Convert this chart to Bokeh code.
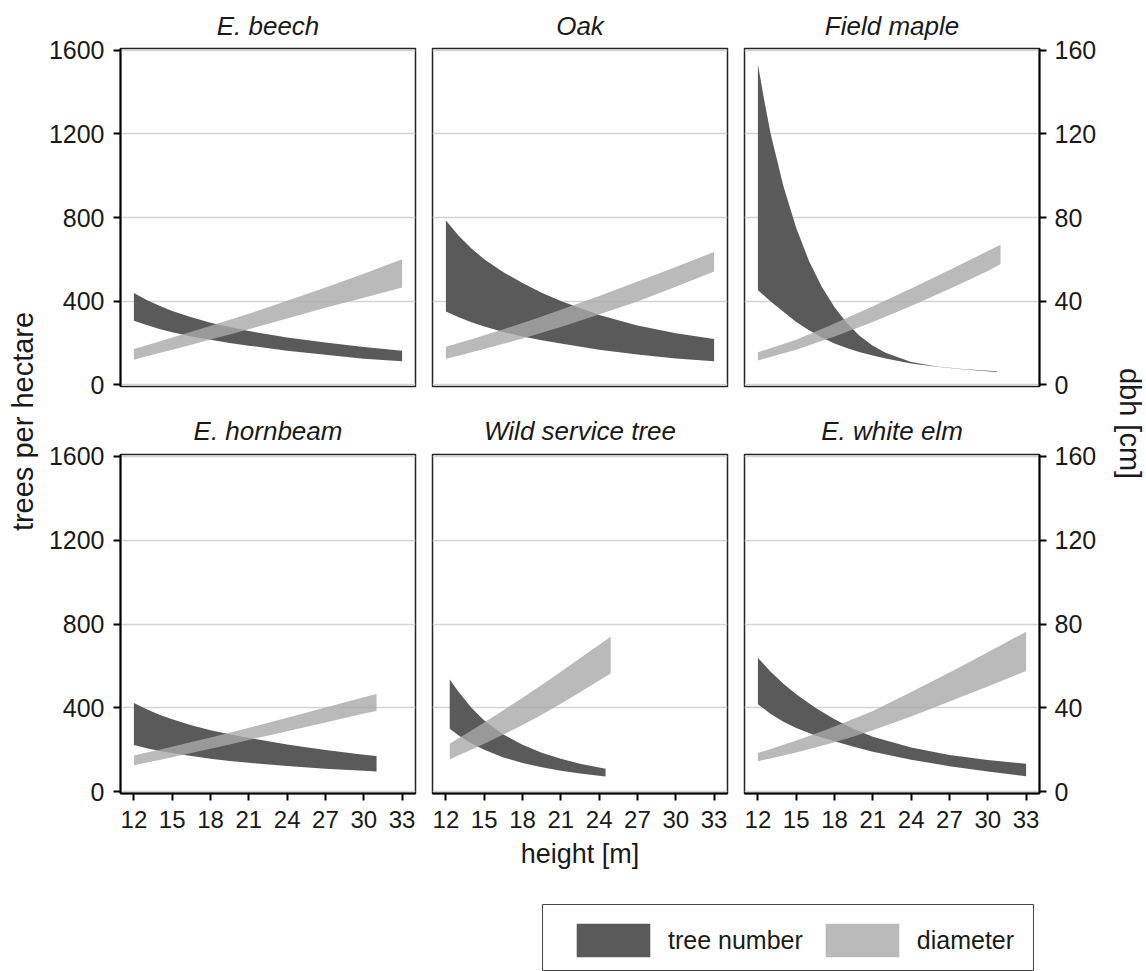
import numpy as np
from bokeh.plotting import figure
from bokeh.models import (Range1d, LinearAxis, FixedTicker, Grid, Label, Legend,
                          LegendItem)
from bokeh.layouts import row, column
from bokeh.embed import file_html
from bokeh.resources import INLINE

# ---------------- data ----------------
species = ["E. beech", "Oak", "Field maple", "E. hornbeam", "Wild service tree", "E. white elm"]

x_ticks = [12, 15, 18, 21, 24, 27, 30, 33]
n_ticks = [0, 400, 800, 1200, 1600]
d_ticks = [0, 40, 80, 120, 160]

# E. beech
beech_h = [12, 13, 14, 15, 16.5, 18, 19.5, 21, 24, 27, 30, 33]
beech_n_hi = [438, 405, 377, 352, 322, 296, 275, 256, 225, 201, 180, 162]
beech_n_lo = [306, 285, 266, 250, 230, 214, 199, 186, 162, 142, 124, 111]
beech_d_hi = [17.0, 18.8, 20.6, 22.5, 25.3, 28.1, 31.0, 33.9, 40.1, 46.5, 53.1, 60.0]
beech_d_lo = [11.9, 13.5, 15.1, 16.7, 19.1, 21.6, 24.0, 26.5, 31.6, 36.8, 41.6, 46.5]

# Oak
oak_h = [12, 13, 14, 15, 16.5, 18, 19.5, 21, 24, 27, 30, 33]
oak_n_hi = [786, 712, 652, 600, 538, 486, 440, 400, 333, 283, 246, 218]
oak_n_lo = [350, 322, 298, 278, 252, 230, 212, 196, 166, 144, 125, 111]
oak_d_hi = [18.1, 19.9, 21.7, 23.6, 26.5, 29.5, 32.6, 35.8, 42.4, 49.3, 56.3, 63.5]
oak_d_lo = [12.3, 13.8, 15.4, 17.0, 19.5, 22.1, 24.8, 27.6, 33.5, 39.8, 46.8, 54.1]

# Field maple
maple_hn = [12, 12.5, 13, 14, 15, 16, 17, 18, 19, 20, 21, 22, 24, 26, 28, 30.7]
maple_n_hi = [1534, 1360, 1200, 950, 750, 592, 468, 370, 292, 231, 186, 152, 108, 86, 74, 64]
maple_n_lo = [452, 425, 398, 348, 300, 260, 225, 197, 174, 155, 139, 125, 101, 85, 73, 60]
maple_hd = [12, 15, 18, 21, 24, 27, 30, 31]
maple_d_hi = [15.4, 21.5, 29.2, 37.5, 46.0, 54.9, 63.9, 66.9]
maple_d_lo = [11.5, 16.6, 23.0, 30.0, 37.6, 45.7, 54.4, 57.6]

# E. hornbeam
hornbeam_h = [12, 13, 14, 15, 16.5, 18, 19.5, 21, 24, 27, 30, 31]
hornbeam_n_hi = [423, 393, 367, 345, 316, 293, 273, 256, 224, 198, 176, 169]
hornbeam_n_lo = [222, 207, 194, 184, 169, 157, 146, 137, 122, 109, 99, 96]
hornbeam_d_hi = [17.2, 18.6, 20.0, 21.4, 23.6, 25.8, 28.1, 30.4, 35.2, 40.1, 45.0, 46.6]
hornbeam_d_lo = [12.5, 13.8, 15.1, 16.4, 18.4, 20.4, 22.5, 24.6, 28.8, 33.0, 37.2, 38.5]

# Wild service tree
service_hn = [12.3, 13, 14, 15, 16.5, 18, 19.5, 21, 22.5, 24.5]
service_n_hi = [535, 475, 400, 339, 272, 223, 185, 156, 133, 109]
service_n_lo = [300, 268, 229, 199, 163, 136, 116, 99, 86, 72]
service_hd = [12.3, 13, 14, 15, 16.5, 18, 19.5, 21, 22.5, 24.9]
service_d_hi = [22.8, 25.4, 29.1, 33.0, 38.8, 44.8, 50.9, 57.2, 63.6, 73.9]
service_d_lo = [15.3, 17.3, 20.0, 22.8, 27.2, 31.8, 36.7, 41.9, 47.4, 56.4]

# E. white elm
elm_h = [12, 13, 14, 15, 16.5, 18, 19.5, 21, 24, 27, 30, 33]
elm_n_hi = [639, 572, 515, 465, 400, 345, 298, 262, 210, 174, 150, 133]
elm_n_lo = [417, 370, 333, 303, 268, 240, 214, 190, 152, 121, 96, 73]
elm_d_hi = [18.4, 20.3, 22.3, 24.4, 27.6, 31.0, 34.7, 38.5, 47.5, 56.8, 66.5, 76.3]
elm_d_lo = [14.5, 15.8, 17.2, 18.6, 21.0, 23.5, 26.3, 29.2, 35.8, 43.0, 50.2, 57.6]

# ---------------- styling ----------------
FONT = "Liberation Sans"
DARK = "#5a5a5a"
LIGHT = "#a9a9a9"
TXT = "#1a1a1a"
X_LO, X_HI = 10.95, 34.05
Y_LO, Y_HI = -9.5, 1609.5
D_LO, D_HI = Y_LO / 10, Y_HI / 10

panels = [
    (species[0], beech_h, beech_n_lo, beech_n_hi, beech_h, beech_d_lo, beech_d_hi),
    (species[1], oak_h, oak_n_lo, oak_n_hi, oak_h, oak_d_lo, oak_d_hi),
    (species[2], maple_hn, maple_n_lo, maple_n_hi, maple_hd, maple_d_lo, maple_d_hi),
    (species[3], hornbeam_h, hornbeam_n_lo, hornbeam_n_hi, hornbeam_h, hornbeam_d_lo, hornbeam_d_hi),
    (species[4], service_hn, service_n_lo, service_n_hi, service_hd, service_d_lo, service_d_hi),
    (species[5], elm_h, elm_n_lo, elm_n_hi, elm_h, elm_d_lo, elm_d_hi),
]


def style_axis(ax, size):
    ax.axis_line_color = "black"
    ax.axis_line_width = 2
    ax.major_tick_line_color = "black"
    ax.major_tick_line_width = 2
    ax.major_tick_out = 7
    ax.major_tick_in = 0
    ax.minor_tick_line_color = None
    ax.major_label_text_font = FONT
    ax.major_label_text_font_size = size
    ax.major_label_text_color = TXT


def make_panel(i):
    title, hn, nlo, nhi, hd, dlo, dhi = panels[i]
    top = i < 3
    col = i % 3
    W = [385, 312, 365][col]
    H = 400 if top else 480
    p = figure(width=W, height=H, title=title,
               x_range=Range1d(X_LO, X_HI), y_range=Range1d(Y_LO, Y_HI),
               x_axis_location=None if top else "below",
               y_axis_location="left" if col == 0 else None,
               min_border_left=[82, 9, 9][col], min_border_right=[8, 8, 61][col],
               min_border_top=47 if top else 54, min_border_bottom=14 if top else 87,
               output_backend="svg", toolbar_location=None)
    p.title.align = "center"
    p.title.text_font = FONT
    p.title.text_font_style = "italic"
    p.title.text_font_size = "26px"
    p.title.text_color = TXT
    p.title.standoff = 16 if top else 17
    p.extra_y_ranges = {"dbh": Range1d(D_LO, D_HI)}
    p.xgrid.visible = False
    p.ygrid.visible = False
    p.add_layout(Grid(dimension=1, ticker=FixedTicker(ticks=n_ticks),
                      grid_line_color="#d4d4d4", grid_line_width=1.5), "center")
    p.outline_line_color = "#222222"
    p.outline_line_width = 1.5
    p.background_fill_color = "white"
    p.border_fill_color = "white"

    p.varea(x=hn, y1=nlo, y2=nhi, fill_color=DARK, fill_alpha=1.0)
    p.varea(x=hd, y1=dlo, y2=dhi, fill_color=LIGHT, fill_alpha=0.8, y_range_name="dbh")

    if not top:
        p.xaxis.ticker = FixedTicker(ticks=x_ticks)
        style_axis(p.xaxis[0], "24px")
        p.xaxis.major_label_standoff = 10
        if i == 4:
            p.xaxis.axis_label = "height [m]"
            p.xaxis.axis_label_text_font = FONT
            p.xaxis.axis_label_text_font_size = "27px"
            p.xaxis.axis_label_text_font_style = "normal"
            p.xaxis.axis_label_text_color = TXT
            p.xaxis.axis_label_standoff = 8
    if col == 0:
        p.yaxis.ticker = FixedTicker(ticks=n_ticks)
        style_axis(p.yaxis[0], "25px")
        p.yaxis.major_label_standoff = 9
    if col == 2:
        ax = LinearAxis(y_range_name="dbh", ticker=FixedTicker(ticks=d_ticks))
        style_axis(ax, "25px")
        ax.major_label_standoff = 8
        p.add_layout(ax, "right")
    return p


figs = [make_panel(i) for i in range(6)]


def label_fig(width, text, x, y, angle):
    f = figure(width=width, height=880, x_range=Range1d(0, width), y_range=Range1d(0, 880),
               x_axis_location=None, y_axis_location=None, min_border=0,
               output_backend="svg", toolbar_location=None)
    f.outline_line_color = None
    f.xgrid.visible = False
    f.ygrid.visible = False
    f.add_layout(Label(x=x, y=y, text=text, angle=angle, text_align="center",
                       text_baseline="middle", text_font=FONT, text_font_size="29px",
                       text_color=TXT))
    return f


left = label_fig(38, "trees per hectare", 22.5, 459, np.pi / 2)
right = label_fig(46, "dbh [cm]", 29.5, 457, -np.pi / 2)

# legend
lg = figure(width=1146, height=91, x_range=Range1d(0, 1), y_range=Range1d(0, 1),
            x_axis_location=None, y_axis_location=None,
            min_border_left=542, min_border_right=113, min_border_top=24, min_border_bottom=0,
            output_backend="svg", toolbar_location=None)
lg.xgrid.visible = False
lg.ygrid.visible = False
lg.outline_line_color = "#444444"
lg.outline_line_width = 1
# off-range stand-ins, only used to draw the legend swatches
r1 = lg.varea(x=[0, 1], y1=[5, 5], y2=[6, 6], fill_color=DARK, fill_alpha=1.0)
r2 = lg.varea(x=[0, 1], y1=[5, 5], y2=[6, 6], fill_color=LIGHT, fill_alpha=0.8)
leg = Legend(items=[LegendItem(label="tree number", renderers=[r1]),
                    LegendItem(label="diameter", renderers=[r2])],
             orientation="horizontal", location=(25, 10),
             glyph_width=92, glyph_height=42, label_standoff=9, spacing=13,
             padding=0, margin=0, border_line_color=None, background_fill_alpha=0,
             label_text_font=FONT, label_text_font_size="25px", label_text_color=TXT,
             label_height=42)
lg.add_layout(leg, "center")

layout = column(row(left, column(row(figs[0], figs[1], figs[2]),
                                 row(figs[3], figs[4], figs[5])), right), lg)

open("out.html", "w").write(file_html(layout, INLINE))
